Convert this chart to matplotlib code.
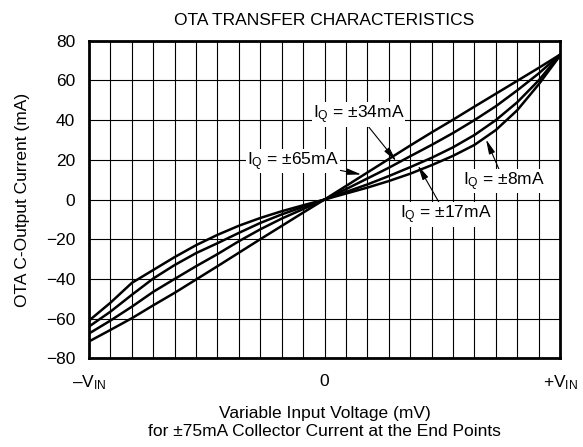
import matplotlib
matplotlib.use('Agg')
import matplotlib.pyplot as plt
import numpy as np

plt.rcParams['font.family'] = ['Liberation Sans', 'DejaVu Sans']
plt.rcParams['mathtext.fontset'] = 'custom'
plt.rcParams['mathtext.rm'] = 'Liberation Sans'
plt.rcParams['mathtext.it'] = 'Liberation Sans'

# input voltage in grid divisions (-V_IN .. +V_IN)
vin = np.arange(-11, 12)

# output current (mA) for each bias current
iq_65 = [-71.5, -65.7, -59.8, -53.3, -47, -40.3, -33.6, -26.8, -20, -13.3, -6.6, 0,
         6.8, 13.6, 20.4, 27.2, 33.8, 40.2, 46.8, 53.3, 59.8, 66.3, 73]
iq_34 = [-67.5, -61, -54, -46.5, -40, -33.6, -27.5, -21, -15, -9.6, -4.8, 0,
         5.2, 10.6, 16, 21.8, 27.5, 33.5, 40, 47, 55, 63.5, 73]
iq_17 = [-64, -56.5, -48, -39.8, -33, -27, -22, -16.8, -11.8, -7.5, -3.7, 0,
         3.8, 7.6, 11.8, 16.3, 21, 26.3, 32.5, 40, 49, 60, 73]
iq_8 = [-61, -52, -42, -35.5, -29, -23, -17.8, -13.2, -9.3, -5.9, -2.9, 0,
        3, 6, 9.3, 13, 17.3, 22, 27.5, 35, 45, 58, 72.5]

fs = 12.5

fig = plt.figure(figsize=(5.83, 4.47), dpi=100)
ax = fig.add_axes([0.1527, 0.1984, 0.808, 0.7105])

for y in [iq_65, iq_34, iq_17, iq_8]:
    ax.plot(vin, y, color='black', lw=1.8, solid_joinstyle='round', zorder=3)

ax.set_xlim(-11, 11)
ax.set_ylim(-80, 80)
ax.set_xticks(np.arange(-11, 12), minor=True)
ax.set_yticks(np.arange(-80, 81, 20))
ax.set_xticks([-11, 0, 11])
ax.set_xticklabels(['\u2013V$_{\\mathrm{IN}}$', '0', '+V$_{\\mathrm{IN}}$'])
ax.grid(True, which='both', axis='x', color='black', lw=0.8)
ax.grid(True, which='major', axis='y', color='black', lw=0.8)
ax.tick_params(which='both', length=0, labelsize=fs, pad=10)
ax.tick_params(axis='x', pad=11)
for s in ax.spines.values():
    s.set_linewidth(2)

ax.set_title('OTA TRANSFER CHARACTERISTICS', fontsize=fs, pad=11)
ax.set_ylabel('OTA C-Output Current (mA)', fontsize=fs, labelpad=11)
ax.set_xlabel('Variable Input Voltage (mV)\nfor \u00b175mA Collector Current at the End Points',
              fontsize=fs, labelpad=10, linespacing=1.2)

labels = [('I$_{\\mathrm{Q}}$ = \u00b134mA', (1.59, 42.9), (3.35, 19.3)),
          ('I$_{\\mathrm{Q}}$ = \u00b165mA', (-1.48, 19.3), (1.72, 12.6)),
          ('I$_{\\mathrm{Q}}$ = \u00b117mA', (5.67, -7.6), (4.36, 17.2)),
          ('I$_{\\mathrm{Q}}$ = \u00b18mA', (8.39, 9.2), (7.54, 30.3))]
for txt, xyt, xy in labels:
    ax.annotate(txt, xy=xy, xytext=xyt, ha='center', va='center', fontsize=fs, zorder=5,
                bbox=dict(boxstyle='square,pad=0.05', fc='white', ec='none'),
                arrowprops=dict(arrowstyle='-|>,head_length=0.7,head_width=0.15',
                                color='black', lw=0.8, shrinkA=0, shrinkB=0))

fig.savefig('out.png', dpi=100)
